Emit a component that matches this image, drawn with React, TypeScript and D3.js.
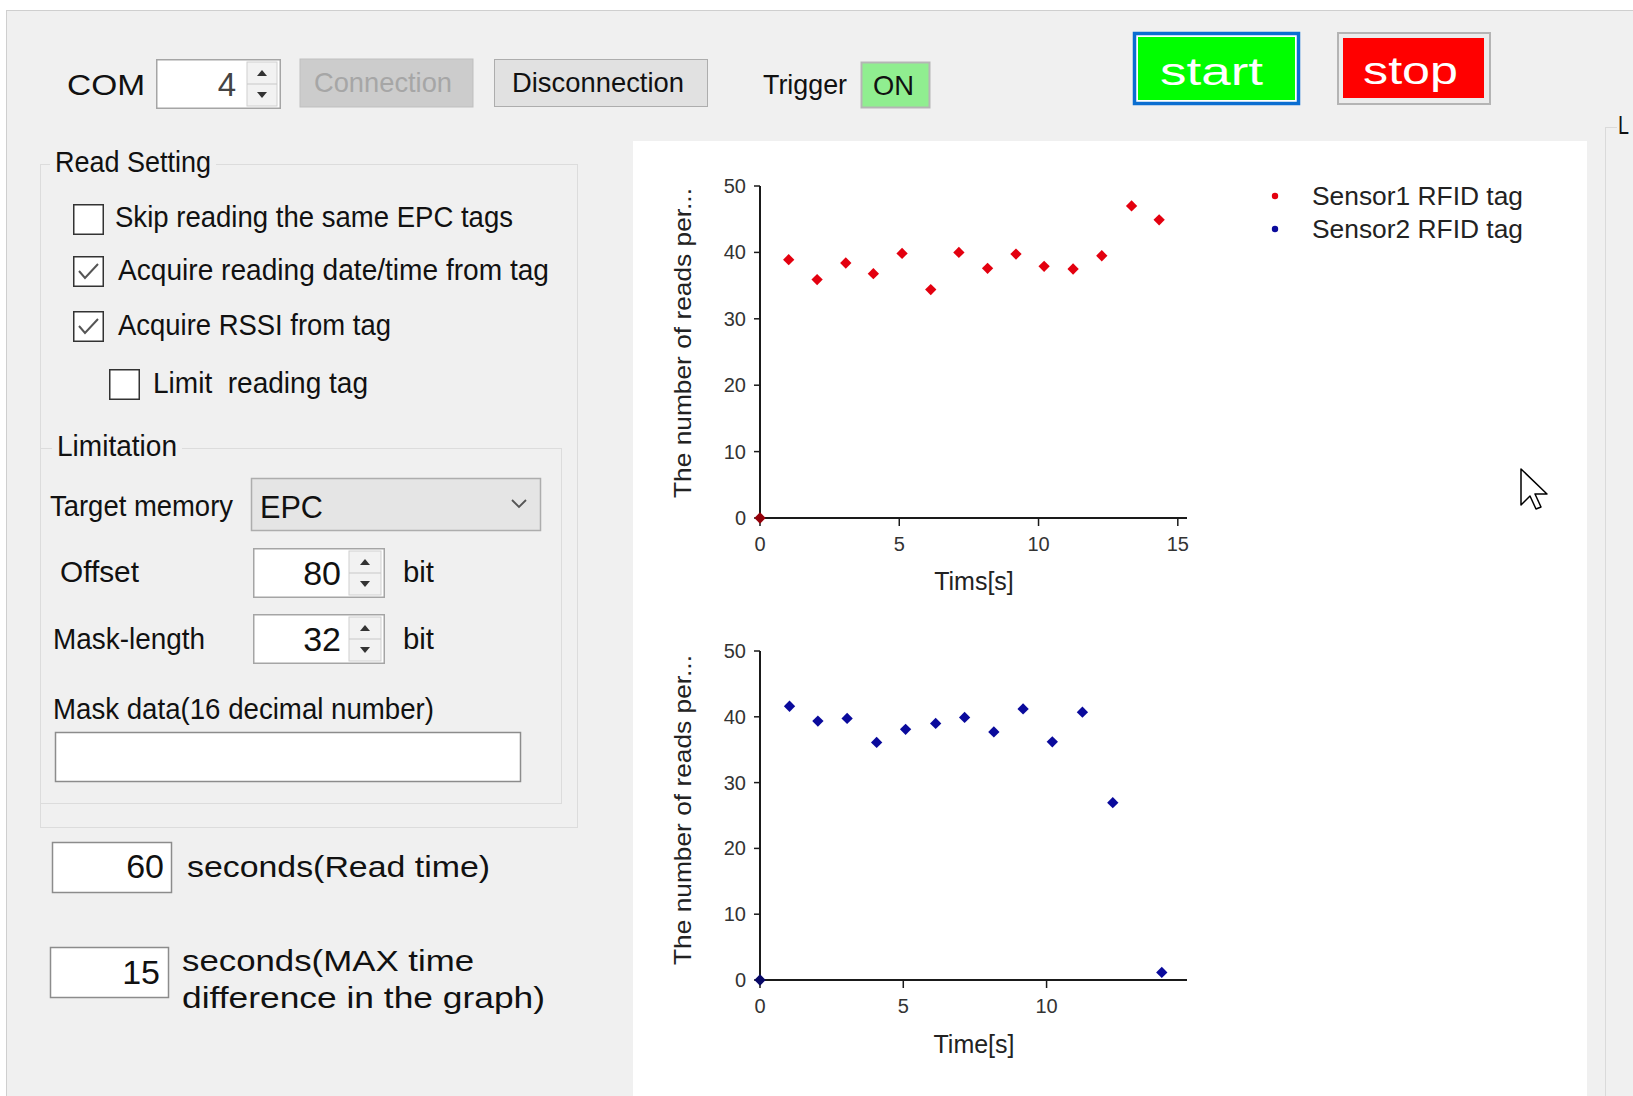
import React from "react";
import * as d3 from "d3";

// ---- chart data ----
const sensor1Time = [0, 1.03, 2.05, 3.08, 4.07, 5.1, 6.13, 7.14, 8.17, 9.19, 10.2, 11.24, 12.27, 13.34, 14.33];
const sensor1Reads = [0, 38.9, 35.9, 38.4, 36.8, 39.85, 34.4, 40.0, 37.6, 39.75, 37.9, 37.5, 39.5, 47.0, 44.9];
const sensor2Time = [0, 1.03, 2.02, 3.04, 4.07, 5.08, 6.13, 7.14, 8.16, 9.18, 10.2, 11.25, 12.31, 14.02];
const sensor2Reads = [0, 41.6, 39.35, 39.75, 36.1, 38.1, 39.0, 39.9, 37.7, 41.2, 36.2, 40.7, 26.95, 1.15];
const yTicks = [0, 10, 20, 30, 40, 50];
const xTicks = [0, 5, 10, 15];
const legendLabels = ["Sensor1 RFID tag", "Sensor2 RFID tag"];
const seriesColors = ["#e3000f", "#0a0a9c"];
const yTitle = "The number of reads per...";
const xTitles = ["Tims[s]", "Time[s]"];
const xMaxes = [15.33, 14.9];

const UI_FONT = "'Liberation Sans', Arial, sans-serif";
const CH_FONT = "'Liberation Sans', Arial, sans-serif";

function T({ x, y, w, s = 29, c = "#111", anchor, children }: any) {
  return (
    <text
      x={x}
      y={y + s * 0.36}
      fontSize={s}
      fill={c}
      fontFamily={UI_FONT}
      textAnchor={anchor}
      xmlSpace="preserve"
      {...(w ? { textLength: w, lengthAdjust: "spacingAndGlyphs" } : {})}
    >
      {children}
    </text>
  );
}

function Checkbox({ x, y, size = 31, checked }: any) {
  return (
    <g>
      <rect x={x + 0.75} y={y + 0.75} width={size - 1.5} height={size - 1.5} fill="#fff" stroke="#333" strokeWidth={1.5} />
      {checked && (
        <polyline
          points={`${x + 6},${y + 15} ${x + 12},${y + 22} ${x + 25},${y + 8}`}
          fill="none"
          stroke="#555"
          strokeWidth={2}
        />
      )}
    </g>
  );
}

function Spin({ x, y, w, h, colX, value, color = "#111", fs = 34, valueRight }: any) {
  const cx = colX + (x + w - 4 - colX) / 2;
  const mid = y + h / 2;
  return (
    <g>
      <rect x={x + 0.75} y={y + 0.75} width={w - 1.5} height={h - 1.5} fill="#fff" stroke="#a5a5a5" strokeWidth={1.5} />
      <rect x={colX} y={y + 3} width={x + w - 4 - colX} height={h - 6} fill="#f2f2f2" stroke="#d0d0d0" strokeWidth={1} />
      <line x1={colX} x2={x + w - 4} y1={mid} y2={mid} stroke="#c8c8c8" />
      <polygon points={`${cx - 5},${mid - 8} ${cx + 5},${mid - 8} ${cx},${mid - 14}`} fill="#333" />
      <polygon points={`${cx - 5},${mid + 8} ${cx + 5},${mid + 8} ${cx},${mid + 14}`} fill="#333" />
      <T x={valueRight} y={mid} s={fs} c={color} anchor="end">{value}</T>
    </g>
  );
}

function Scatter({ idx, times, reads, top, bottom, yTitleCy, xTitleY, legend }: any) {
  const left = 760;
  const right = 1187;
  const xMax = xMaxes[idx];
  const x = d3.scaleLinear().domain([0, xMax]).range([left, right]);
  const y = d3.scaleLinear().domain([0, 50]).range([bottom, top]);
  const marker = d3.symbol().type(d3.symbolSquare).size(64)() as string;
  const color = seriesColors[idx];
  const pts = d3.zip(times, reads) as [number, number][];
  return (
    <g fontFamily={CH_FONT}>
      <line x1={x(0)} x2={x(0)} y1={y(50)} y2={y(0)} stroke="#1a1a1a" strokeWidth={2} />
      <line x1={x(0)} x2={x(xMax)} y1={y(0)} y2={y(0)} stroke="#1a1a1a" strokeWidth={2} />
      {yTicks.map((t) => (
        <g key={"y" + t}>
          <line x1={x(0) - 6} x2={x(0)} y1={y(t)} y2={y(t)} stroke="#1a1a1a" strokeWidth={1.5} />
          <text x={x(0) - 14} y={y(t) + 7} fontSize={20} fill="#333" textAnchor="end">
            {t}
          </text>
        </g>
      ))}
      {xTicks.filter((t) => t <= xMax).map((t) => (
        <g key={"x" + t}>
          <line x1={x(t)} x2={x(t)} y1={y(0)} y2={y(0) + 8} stroke="#1a1a1a" strokeWidth={1.5} />
          <text x={x(t)} y={y(0) + 33} fontSize={20} fill="#333" textAnchor="middle">
            {t}
          </text>
        </g>
      ))}
      <text
        transform={`translate(682,${yTitleCy}) rotate(-90)`}
        fontSize={24}
        fill="#222"
        textAnchor="middle"
        dominantBaseline="central"
        textLength={310}
        lengthAdjust="spacingAndGlyphs"
      >
        {yTitle}
      </text>
      <text x={974} y={xTitleY} fontSize={25} fill="#222" textAnchor="middle">
        {xTitles[idx]}
      </text>
      {pts.map(([t, r], i) => (
        <path
          key={i}
          d={marker}
          transform={`translate(${x(t)},${y(r)}) rotate(45)`}
          fill={i === 0 ? d3.color(color)!.darker(1.2).toString() : color}
        />
      ))}
      {legend && (
        <g>
          {legendLabels.map((lab, i) => (
            <g key={lab}>
              <circle cx={1275} cy={196 + i * 33} r={3.2} fill={seriesColors[i]} />
              <text x={1312} y={205 + i * 33} fontSize={26} fill="#222" textLength={211} lengthAdjust="spacingAndGlyphs">
                {lab}
              </text>
            </g>
          ))}
        </g>
      )}
    </g>
  );
}

export default function App() {
  const W = 1633;
  const H = 1096;
  return (
    <div style={{ position: "absolute", left: 0, top: 0 }}>
      <svg width={W} height={H} viewBox={`0 0 ${W} ${H}`} style={{ display: "block" }}>
        <rect x={0} y={0} width={W} height={H} fill="#f0f0f0" />
        <rect x={0} y={0} width={W} height={10} fill="#fff" />
        <rect x={0} y={0} width={6} height={H} fill="#fff" />
        <line x1={6} x2={W} y1={10.5} y2={10.5} stroke="#cfcfcf" />
        <line x1={6.5} x2={6.5} y1={10} y2={H} stroke="#cfcfcf" />

        {/* top row */}
        <T x={67} y={84} w={78} s={30}>COM</T>
        <Spin x={156} y={59} w={125} h={50} colX={247} value="4" color="#444" fs={33} valueRight={236} />
        <rect x={300} y={59} width={173} height={48} fill="#cccccc" stroke="#bfbfbf" />
        <T x={314} y={82} w={138} s={28} c="#a6a6a6">Connection</T>
        <rect x={494.5} y={59.5} width={213} height={47} fill="#e1e1e1" stroke="#adadad" />
        <T x={512} y={82} w={172} s={28}>Disconnection</T>
        <T x={763} y={84} w={84} s={28}>Trigger</T>
        <rect x={861.5} y={62.5} width={68} height={45} fill="#90ee90" stroke="#b5b5b5" strokeWidth={2} />
        <T x={873} y={85} w={41} s={28}>ON</T>

        <rect x={1134.5} y={33.5} width={164} height={70} fill="#fff" stroke="#0a6ed1" strokeWidth={3.5} />
        <rect x={1138} y={37} width={157} height={63} fill="#00ff00" />
        <text x={1160} y={85} fontSize={38} fill="#fff" fontFamily={UI_FONT} textLength={103} lengthAdjust="spacingAndGlyphs">start</text>
        <rect x={1338} y={33} width={152} height={71} fill="#ececec" stroke="#b4b4b4" strokeWidth={2} />
        <rect x={1343} y={38} width={141} height={60} fill="#ff0000" />
        <text x={1363} y={84} fontSize={38} fill="#fff" fontFamily={UI_FONT} textLength={95} lengthAdjust="spacingAndGlyphs">stop</text>

        {/* right partial group */}
        <line x1={1605.5} x2={1605.5} y1={127} y2={H} stroke="#dadada" />
        <line x1={1605} x2={1617} y1={127.5} y2={127.5} stroke="#dadada" />
        <T x={1618} y={125} w={11} s={26}>L</T>

        {/* Read Setting group */}
        <rect x={40.5} y={164.5} width={537} height={663} fill="none" stroke="#dcdcdc" />
        <rect x={50} y={150} width={166} height={26} fill="#f0f0f0" />
        <T x={55} y={162} w={156} s={29}>Read Setting</T>

        <Checkbox x={73} y={204} checked={false} />
        <T x={115} y={217} w={398} s={29}>Skip reading the same EPC tags</T>
        <Checkbox x={73} y={256} checked={true} />
        <T x={118} y={270} w={431} s={29}>Acquire reading date/time from tag</T>
        <Checkbox x={73} y={311} checked={true} />
        <T x={118} y={325} w={273} s={29}>Acquire RSSI from tag</T>
        <Checkbox x={109} y={369} checked={false} />
        <T x={153} y={383} w={215} s={29}>Limit  reading tag</T>

        {/* Limitation group */}
        <rect x={40.5} y={448.5} width={521} height={355} fill="none" stroke="#dcdcdc" />
        <rect x={52} y={434} width={130} height={26} fill="#f0f0f0" />
        <T x={57} y={446} w={120} s={29}>Limitation</T>

        <T x={50} y={506} w={183} s={29}>Target memory</T>
        <rect x={251.5} y={478.5} width={289} height={52} fill="#e5e5e5" stroke="#adadad" strokeWidth={1.5} />
        <T x={260} y={506} w={63} s={32}>EPC</T>
        <polyline points="512,500 519,507 526,500" fill="none" stroke="#555" strokeWidth={1.8} />

        <T x={60} y={572} w={79} s={29}>Offset</T>
        <Spin x={253} y={548} w={132} h={50} colX={349} value="80" fs={34} valueRight={341} />
        <T x={403} y={572} w={31} s={29}>bit</T>

        <T x={53} y={639} w={152} s={29}>Mask-length</T>
        <Spin x={253} y={614} w={132} h={50} colX={349} value="32" fs={34} valueRight={341} />
        <T x={403} y={639} w={31} s={29}>bit</T>

        <T x={53} y={709} w={381} s={29}>Mask data(16 decimal number)</T>
        <rect x={55.5} y={732.5} width={465} height={49} fill="#fff" stroke="#8c8c8c" strokeWidth={1.5} />

        {/* time settings */}
        <rect x={52.5} y={842.5} width={119} height={50} fill="#fff" stroke="#8c8c8c" strokeWidth={1.5} />
        <T x={164} y={866} s={34} anchor="end">60</T>
        <T x={187} y={866} w={303} s={30}>seconds(Read time)</T>
        <rect x={50.5} y={947.5} width={118} height={50} fill="#fff" stroke="#8c8c8c" strokeWidth={1.5} />
        <T x={160} y={972} s={34} anchor="end">15</T>
        <T x={182} y={960} w={292} s={30}>seconds(MAX time</T>
        <T x={182} y={997} w={363} s={30}>difference in the graph)</T>

        {/* chart panel */}
        <rect x={633} y={141} width={954} height={H - 141} fill="#fff" />
        <Scatter idx={0} times={sensor1Time} reads={sensor1Reads} top={186} bottom={518} yTitleCy={343} xTitleY={590} legend />
        <Scatter idx={1} times={sensor2Time} reads={sensor2Reads} top={651} bottom={980} yTitleCy={810} xTitleY={1053} />

        {/* mouse cursor */}
        <path
          d="M1521,469 L1521,505 L1530,496 L1536,509 L1541,507 L1535,494 L1547,494 Z"
          fill="#fff"
          stroke="#000"
          strokeWidth={1.5}
          strokeLinejoin="round"
        />
      </svg>
    </div>
  );
}
